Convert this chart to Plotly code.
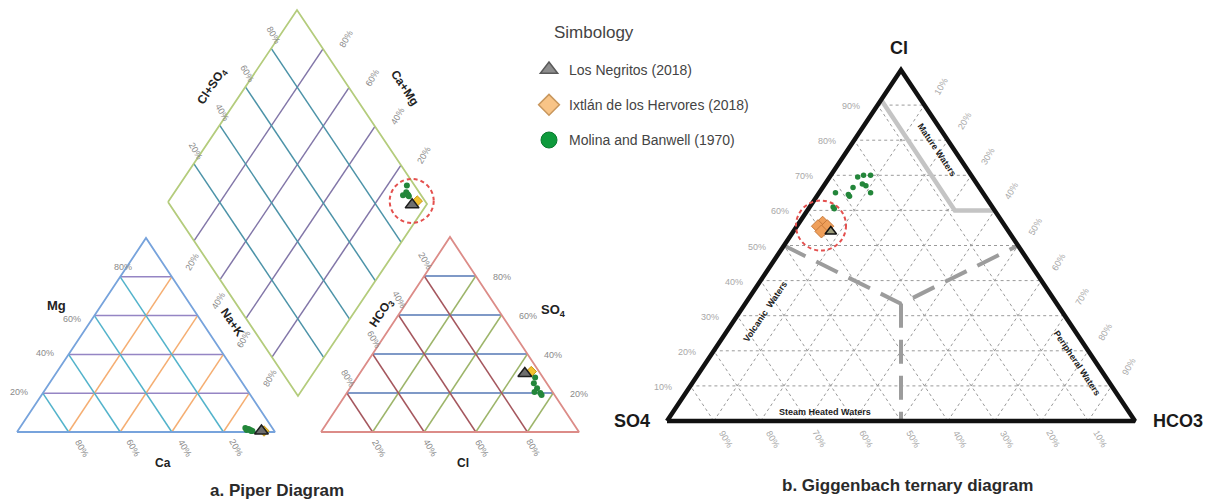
import plotly.graph_objects as go

# ---------------- Piper data (meq %) ----------------
# Los Negritos (2018)
neg_ca = [5.0]
neg_mg = [0.5]
neg_nak = [94.5]
neg_hco3 = [6.0]
neg_so4 = [30.0]
neg_cl = [64.0]

# Ixtlán de los Hervores (2018)
ixt_ca = [4.0]
ixt_mg = [0.5]
ixt_nak = [95.5]
ixt_hco3 = [3.0]
ixt_so4 = [31.0]
ixt_cl = [66.0]

# Molina and Banwell (1970)
mol_ca = [10.5, 9.5, 9.0, 10.5, 8.5, 9.0]
mol_mg = [2.0, 1.5, 0.5, 1.0, 0.5, 1.0]
mol_nak = [87.5, 89.0, 90.5, 88.5, 91.0, 90.0]
mol_hco3 = [3.0, 5.0, 5.0, 7.0, 5.0, 5.0]
mol_so4 = [28.0, 25.0, 22.5, 20.5, 20.0, 19.0]
mol_cl = [69.0, 70.0, 72.5, 72.5, 75.0, 76.0]

# ---------------- Giggenbach data (Cl / SO4 / HCO3 %) ----------------
gneg_cl = [54.0]
gneg_so4 = [38.0]
gneg_hco3 = [8.0]

gixt_cl = [56.5, 55.5, 55.5, 54.0]
gixt_so4 = [38.5, 40.0, 38.0, 40.0]
gixt_hco3 = [5.0, 4.5, 6.5, 6.0]

gmol_cl = [69.5, 70.0, 70.0, 67.5, 67.0, 65.0, 66.5, 64.5, 64.0, 65.0, 61.0, 60.5]
gmol_so4 = [24.5, 23.0, 21.5, 24.5, 24.0, 24.0, 27.0, 29.0, 29.0, 31.5, 34.0, 34.0]
gmol_hco3 = [6.0, 7.0, 8.5, 8.0, 9.0, 11.0, 6.5, 6.5, 7.0, 3.5, 5.0, 5.5]

piper_ticks = [20, 40, 60, 80]
gig_ticks = [10, 20, 30, 40, 50, 60, 70, 80, 90]

# Giggenbach field boundaries as (SO4, HCO3, Cl) %
mature_line = [(8.5, 0, 91.5), (8.5, 31.5, 60), (0, 40, 60)]
field_line_a = [(50, 0, 50), (33.3, 33.3, 33.4), (0, 50, 50)]
field_line_b = [(33.3, 33.3, 33.4), (50, 50, 0)]

# ---------------- layout geometry (pixel space) ----------------
CAT = {"a": (17, 432), "b": (275, 432), "c": (146, 238)}    # Ca, Na+K, Mg
AN = {"a": (321, 432), "b": (579, 432), "c": (450, 237)}     # HCO3, Cl, SO4
GIG = {"a": (667, 421), "b": (1135, 421), "c": (901, 70)}    # SO4, HCO3, Cl
D_L, D_T, D_B = (168, 202), (297, 10), (298, 396)            # diamond corners
D_R = (D_T[0] + D_B[0] - D_L[0], D_T[1] + D_B[1] - D_L[1])

FONT = "Liberation Sans, Arial, sans-serif"


def tpt(tri, a, b, c):
    tot = a + b + c
    x = (a * tri["a"][0] + b * tri["b"][0] + c * tri["c"][0]) / tot
    y = (a * tri["a"][1] + b * tri["b"][1] + c * tri["c"][1]) / tot
    return x, y


def tri_xy(tri, a, b, c):
    pts = [tpt(tri, fa, fb, fc) for fa, fb, fc in zip(a, b, c)]
    return [p[0] for p in pts], [p[1] for p in pts]


def dpt(n, s):
    x = D_L[0] + s * (D_T[0] - D_L[0]) + n * (D_B[0] - D_L[0])
    y = D_L[1] + s * (D_T[1] - D_L[1]) + n * (D_B[1] - D_L[1])
    return x, y


def dia_xy(ca, mg, nak, hco3, so4, cl):
    xs, ys = [], []
    for c1, m1, n1, h1, s1, l1 in zip(ca, mg, nak, hco3, so4, cl):
        x, y = dpt(n1 / (c1 + m1 + n1), (s1 + l1) / (h1 + s1 + l1))
        xs.append(x)
        ys.append(y)
    return xs, ys


def tri_grid(tri, ticks, which):
    xs, ys = [], []
    for t in ticks:
        f = t / 100
        if which == "c":
            p1, p2 = (1 - f, 0, f), (0, 1 - f, f)
        elif which == "a":
            p1, p2 = (f, 1 - f, 0), (f, 0, 1 - f)
        else:
            p1, p2 = (1 - f, f, 0), (0, f, 1 - f)
        for p in (p1, p2):
            x, y = tpt(tri, *p)
            xs.append(x)
            ys.append(y)
        xs.append(None)
        ys.append(None)
    return xs, ys


def outline(tri):
    pts = [tri["a"], tri["b"], tri["c"], tri["a"]]
    return [p[0] for p in pts], [p[1] for p in pts]


fig = go.Figure()


def add_lines(xs, ys, color, width, dash=None):
    fig.add_trace(go.Scatter(x=xs, y=ys, mode="lines", hoverinfo="skip", showlegend=False,
                             line=dict(color=color, width=width, dash=dash)))


# ---------------- Piper: cation triangle ----------------
add_lines(*tri_grid(CAT, piper_ticks, "c"), "#9585c4", 1.5)
add_lines(*tri_grid(CAT, piper_ticks, "b"), "#f5ae72", 1.5)
add_lines(*tri_grid(CAT, piper_ticks, "a"), "#52b3cb", 1.5)
add_lines(*outline(CAT), "#77a3dc", 1.8)

# ---------------- Piper: anion triangle ----------------
add_lines(*tri_grid(AN, piper_ticks, "c"), "#5577b5", 1.5)
add_lines(*tri_grid(AN, piper_ticks, "b"), "#9db56a", 1.5)
add_lines(*tri_grid(AN, piper_ticks, "a"), "#a5575e", 1.5)
add_lines(*outline(AN), "#dc8c88", 1.8)

# ---------------- Piper: diamond ----------------
dx, dy = [], []
for t in piper_ticks:
    n = t / 100
    for s in (0, 1):
        x, y = dpt(n, s)
        dx.append(x)
        dy.append(y)
    dx.append(None)
    dy.append(None)
add_lines(dx, dy, "#8276a8", 1.5)
dx, dy = [], []
for t in piper_ticks:
    s = t / 100
    for n in (0, 1):
        x, y = dpt(n, s)
        dx.append(x)
        dy.append(y)
    dx.append(None)
    dy.append(None)
add_lines(dx, dy, "#4c93a8", 1.5)
add_lines([D_L[0], D_T[0], D_R[0], D_B[0], D_L[0]], [D_L[1], D_T[1], D_R[1], D_B[1], D_L[1]],
          "#b4cc7c", 1.8)

# ---------------- Giggenbach triangle ----------------
for w in ("a", "b", "c"):
    add_lines(*tri_grid(GIG, gig_ticks, w), "#9a9a9a", 1, "3px,3px")


def field_xy(line):
    pts = [tpt(GIG, *p) for p in line]
    return [p[0] for p in pts], [p[1] for p in pts]


add_lines(*field_xy(mature_line), "#c4c4c4", 4.5)
add_lines(*field_xy(field_line_a), "#9c9c9c", 4, "24px,12px")
add_lines(*field_xy(field_line_b), "#9c9c9c", 4, "24px,12px")
add_lines(*outline(GIG), "#111111", 4.5)

# ---------------- sample markers ----------------
mk_green = dict(symbol="circle", size=6, color="#23863a", line=dict(width=0))
mk_tri_p = dict(symbol="triangle-up", size=12, color="#6e6e6e", line=dict(color="#1e1e1e", width=1.5))
mk_dia_p = dict(symbol="diamond", size=8, color="#f2c12e", line=dict(color="#c79a1a", width=1))

for ca, mg, nak, hco3, so4, cl, mk in [
    (mol_ca, mol_mg, mol_nak, mol_hco3, mol_so4, mol_cl, mk_green),
    (ixt_ca, ixt_mg, ixt_nak, ixt_hco3, ixt_so4, ixt_cl, mk_dia_p),
    (neg_ca, neg_mg, neg_nak, neg_hco3, neg_so4, neg_cl, mk_tri_p),
]:
    for xs, ys in (tri_xy(CAT, ca, nak, mg), tri_xy(AN, hco3, cl, so4),
                   dia_xy(ca, mg, nak, hco3, so4, cl)):
        fig.add_trace(go.Scatter(x=xs, y=ys, mode="markers", marker=mk, showlegend=False,
                                 hoverinfo="skip"))

gx_mol = tri_xy(GIG, gmol_so4, gmol_hco3, gmol_cl)
gx_ixt = tri_xy(GIG, gixt_so4, gixt_hco3, gixt_cl)
gx_neg = tri_xy(GIG, gneg_so4, gneg_hco3, gneg_cl)
fig.add_trace(go.Scatter(x=gx_mol[0], y=gx_mol[1], mode="markers", showlegend=False, hoverinfo="skip",
                         marker=dict(symbol="circle", size=5.5, color="#23863a")))
fig.add_trace(go.Scatter(x=gx_ixt[0], y=gx_ixt[1], mode="markers", showlegend=False, hoverinfo="skip",
                         marker=dict(symbol="diamond", size=10, color="#ef9f5a",
                                     line=dict(color="#c87a3c", width=1))))
fig.add_trace(go.Scatter(x=gx_neg[0], y=gx_neg[1], mode="markers", showlegend=False, hoverinfo="skip",
                         marker=dict(symbol="triangle-up", size=10, color="#9a9a7a",
                                     line=dict(color="#111", width=1.5))))

# highlight circles around the 2018 samples
shapes = []
dia_2018 = dia_xy(ixt_ca + neg_ca, ixt_mg + neg_mg, ixt_nak + neg_nak,
                  ixt_hco3 + neg_hco3, ixt_so4 + neg_so4, ixt_cl + neg_cl)
for xs, ys, r in (
    (gx_ixt[0] + gx_neg[0], gx_ixt[1] + gx_neg[1], 25),
    (dia_2018[0], dia_2018[1], 22),
):
    cx = sum(xs) / len(xs) - 3
    cy = sum(ys) / len(ys) - 2
    shapes.append(dict(type="circle", xref="x", yref="y", x0=cx - r, x1=cx + r, y0=cy - r, y1=cy + r,
                       line=dict(color="#e4504e", width=2, dash="4px,3px")))

# ---------------- legend entries ----------------
legend_items = [
    ("Los Negritos (2018)", dict(symbol="triangle-up", size=15, color="#8d8d8d",
                                 line=dict(color="#5a5a5a", width=1.5))),
    ("Ixtlán de los Hervores (2018)", dict(symbol="diamond", size=16, color="#f8c487",
                                           line=dict(color="#c8965c", width=1.5))),
    ("Molina and Banwell (1970)", dict(symbol="circle", size=16, color="#0e9a3c",
                                       line=dict(color="#0a7a2e", width=1))),
]
for i, (name, mk) in enumerate(legend_items):
    fig.add_trace(go.Scatter(x=[None], y=[None], mode="markers", name=name, marker=mk,
                             legendgroup=f"g{i}"))

# ---------------- text ----------------
ann = []


def label(x, y, text, size=9, color="#8a8a8a", angle=0, bold=False, xanchor="center"):
    ann.append(dict(x=x, y=y, xref="x", yref="y", text=f"<b>{text}</b>" if bold else text,
                    showarrow=False, textangle=angle, xanchor=xanchor, yanchor="middle",
                    font=dict(family=FONT, size=size, color=color)))


for t in piper_ticks:
    f = t / 100
    x, y = tpt(CAT, 1 - f, 0, f)
    if t == 80:
        label(x + 3, y - 10, f"{t}%")
    elif t == 60:
        label(x - 22, y + 3, f"{t}%")
    else:
        label(x - 24, y - 1, f"{t}%")
    x, y = tpt(CAT, f, 1 - f, 0)
    label(x + 13, y + 16, f"{t}%", angle=60)
    x, y = tpt(AN, f, 0, 1 - f)
    label(x + 1, y - 15, f"{t}%", angle=60)
    x, y = tpt(AN, 0, 1 - f, f)
    label(x + 26, y + 1, f"{t}%")
    x, y = tpt(AN, 1 - f, f, 0)
    label(x + 6, y + 16, f"{t}%", angle=60)
    x, y = dpt(0, f)
    label(x + 2, y - 13, f"{t}%", angle=60)
    x, y = dpt(1 - f, 1)
    label(x + 23, y - 10, f"{t}%", angle=-60)
    x, y = dpt(f, 0)
    label(x - 2, y + 21, f"{t}%", angle=-60)

for t in gig_ticks:
    f = t / 100
    x, y = tpt(GIG, 1 - f, 0, f)
    label(x - 27, y + 1, f"{t}%", color="#a8a8a8")
    x, y = tpt(GIG, 0, f, 1 - f)
    label(x + 17, y - 19, f"{t}%", color="#a8a8a8", angle=-60)
    x, y = tpt(GIG, f, 1 - f, 0)
    label(x + 12, y + 18, f"{t}%", color="#a8a8a8", angle=60)

# Piper axis names
label(56, 305, "Mg", 13, "#222", bold=True)
label(163, 463, "Ca", 12, "#222", bold=True)
label(232, 322, "Na+K", 12, "#222", 56, bold=True)
label(463, 463, "Cl", 12, "#222", bold=True)
label(553, 310, "SO<sub>4</sub>", 13, "#222", bold=True)
label(382, 313, "HCO<sub>3</sub>", 12, "#222", -56, bold=True)
label(212, 87, "Cl+SO<sub>4</sub>", 12, "#222", -56, bold=True)
label(405, 88, "Ca+Mg", 12, "#222", 56, bold=True)

# Giggenbach corner and field names
label(899, 48, "Cl", 18, "#1a1a1a", bold=True)
label(632, 421, "SO4", 18, "#1a1a1a", bold=True)
label(1151, 421, "HCO3", 18, "#1a1a1a", bold=True, xanchor="left")
label(937, 150, "Mature Waters", 9, "#222", 56, bold=True)
label(765, 312, "Volcanic  Waters", 9, "#222", -56, bold=True)
label(1077, 363, "Peripheral Waters", 9, "#222", 56, bold=True)
label(825, 412, "Steam Heated Waters", 9, "#222", bold=True)

# legend heading
label(552, 32, "Simbology", 17, "#444", xanchor="left")

# panel titles
label(277, 490, "a. Piper Diagram", 17, "#2a2a2a", bold=True)
label(907, 485, "b. Giggenbach ternary diagram", 17, "#2a2a2a", bold=True)

fig.update_layout(
    width=1218, height=503,
    margin=dict(l=0, r=0, t=0, b=0),
    paper_bgcolor="white", plot_bgcolor="white",
    xaxis=dict(range=[0, 1218], visible=False, fixedrange=True),
    yaxis=dict(range=[503, 0], visible=False, fixedrange=True),
    annotations=ann,
    shapes=shapes,
    showlegend=True,
    legend=dict(x=529 / 1218, y=1 - 54 / 503, xanchor="left", yanchor="top",
                bgcolor="rgba(0,0,0,0)", tracegroupgap=14, itemsizing="trace",
                font=dict(family=FONT, size=14, color="#444")),
    font=dict(family=FONT),
)

fig.write_html("out.html")
